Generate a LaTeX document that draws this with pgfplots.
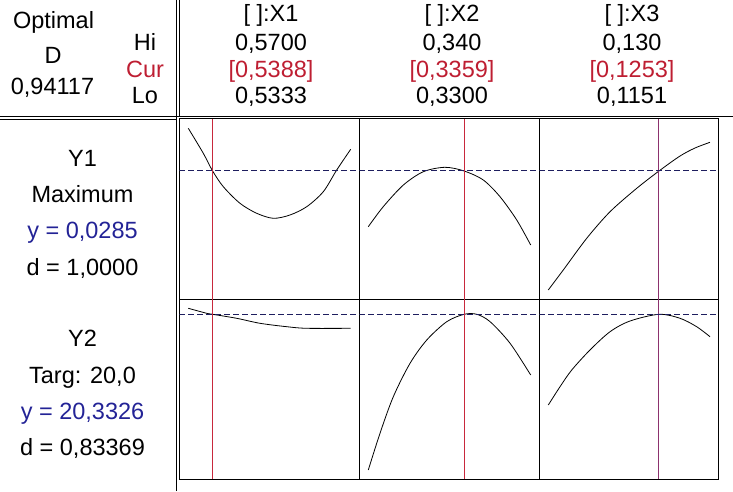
\documentclass[border=0pt]{standalone}
\usepackage{pgfplots}
\usepackage{pgfplotstable}
\pgfplotsset{compat=1.18}
\usepackage{fontspec}
\setmainfont{Liberation Sans}
\definecolor{curred}{RGB}{190,30,50}
\definecolor{curline}{RGB}{200,40,60}
\definecolor{curline3}{RGB}{140,50,110}
\definecolor{ynavy}{RGB}{35,35,150}
\definecolor{dashnavy}{RGB}{30,30,95}

% Y1 vs X1, X2, X3 (y in panel units 0..180)
\pgfplotstableread{
x y
0.5333 170.7
0.53669 145.7
0.5388 128
0.54121 112.3
0.54498 95.7
0.54876 85.7
0.55251 80.7
0.55628 84
0.56006 92.3
0.56381 107.3
0.56684 129
0.5700 149.7
}\tabAA
\pgfplotstableread{
x y
0.3300 72.3
0.33092 92.3
0.33216 114
0.33339 127.3
0.33472 131.7
0.3359 128
0.33708 119
0.33811 102.3
0.33914 79
0.3400 54
}\tabAB
\pgfplotstableread{
x y
0.1151 9
0.11648 29
0.11864 60.7
0.12079 87.3
0.12325 110.7
0.1253 128
0.12724 143
0.12862 151
0.1300 156.7
}\tabAC
% Y2 vs X1, X2, X3
\pgfplotstableread{
x y
0.5333 170.7
0.53746 165.7
0.5388 164.7
0.54424 160.7
0.54950 155.7
0.55554 152.3
0.56006 150.7
0.5700 150.7
}\tabBA
\pgfplotstableread{
x y
0.3300 9
0.33072 45.7
0.33154 82.3
0.33257 115.7
0.33360 139
0.33483 157.3
0.3359 164.7
0.33668 164.7
0.33750 157.3
0.33873 135.7
0.3400 104
}\tabBB
\pgfplotstableread{
x y
0.1151 74
0.11618 92.3
0.11726 109
0.11894 129
0.12079 147.3
0.12263 158
0.1253 164.7
0.12724 160.7
0.12877 152.3
0.1300 142.3
}\tabBC

\pgfplotsset{panel/.style={width=180pt,height=180pt,scale only axis,
  ymin=0,ymax=180,xtick=\empty,ytick=\empty,
  axis line style={line width=1pt},anchor=south west}}

\begin{document}
\begin{tikzpicture}[x=1pt,y=1pt,
  txt/.style={font=\fontsize{23.5}{28}\selectfont,inner sep=0pt,anchor=base}]
\useasboundingbox (0,0) rectangle (733,491);
% frame lines
\draw[line width=1pt] (176.7,0) -- (176.7,491);
\draw[line width=1pt] (0,374.3) -- (733,374.3);
\draw[line width=1pt] (179.3,374.3) -- (179.3,491);
\draw[line width=1pt] (0,371.7) -- (176.7,371.7);

% header left
\node[txt] at (53.5,462) {Optimal};
\node[txt] at (53,427) {D};
\node[txt] at (52.5,396) {0,94117};
\node[txt] at (145,440) {Hi};
\node[txt,text=curred] at (145,413.5) {Cur};
\node[txt] at (145,387.5) {Lo};
% column headers
\node[txt] at (271,469) {[ ]:X1};
\node[txt] at (271,440) {0,5700};
\node[txt,text=curred] at (271,413.5) {[0,5388]};
\node[txt] at (271,387.5) {0,5333};
\node[txt] at (452,469) {[ ]:X2};
\node[txt] at (452,440) {0,340};
\node[txt,text=curred] at (452,413.5) {[0,3359]};
\node[txt] at (452,387.5) {0,3300};
\node[txt] at (632,469) {[ ]:X3};
\node[txt] at (632,440) {0,130};
\node[txt,text=curred] at (632,413.5) {[0,1253]};
\node[txt] at (632,387.5) {0,1151};
% row labels
\node[txt] at (82.5,325) {Y1};
\node[txt] at (82.5,289) {Maximum};
\node[txt,text=ynavy] at (82.5,253) {y = 0,0285};
\node[txt] at (82.5,216) {d = 1,0000};
\node[txt] at (82.5,145) {Y2};
\node[txt] at (82.5,108) {Targ: 20,0};
\node[txt,text=ynavy] at (82.5,72) {y = 20,3326};
\node[txt] at (82.5,36) {d = 0,83369};

% Row 1
\begin{axis}[panel, at={(179.3pt,192pt)}, xmin=0.531266, xmax=0.571944]
\addplot[black, line width=0.8pt, smooth] table {\tabAA};
\addplot[curline, line width=1pt] coordinates {(0.5388,0) (0.5388,180)};
\addplot[dashnavy, line width=1pt, dash pattern=on 6pt off 3pt] coordinates {(0.531266,128) (0.571944,128)};
\end{axis}
\begin{axis}[panel, at={(359.3pt,192pt)}, xmin=0.329446, xmax=0.340530]
\addplot[black, line width=0.8pt, smooth] table {\tabAB};
\addplot[curline, line width=1pt] coordinates {(0.3359,0) (0.3359,180)};
\addplot[dashnavy, line width=1pt, dash pattern=on 6pt off 3pt] coordinates {(0.329446,128) (0.340530,128)};
\end{axis}
\begin{axis}[panel, width=178.7pt, at={(539.3pt,192pt)}, xmin=0.114271, xmax=0.130738]
\addplot[black, line width=0.8pt, smooth] table {\tabAC};
\addplot[curline3, line width=1pt] coordinates {(0.1253,0) (0.1253,180)};
\addplot[dashnavy, line width=1pt, dash pattern=on 6pt off 3pt] coordinates {(0.114271,128) (0.130738,128)};
\end{axis}
% Row 2
\begin{axis}[panel, at={(179.3pt,12pt)}, xmin=0.531266, xmax=0.571944]
\addplot[black, line width=0.8pt, smooth] table {\tabBA};
\addplot[curline, line width=1pt] coordinates {(0.5388,0) (0.5388,180)};
\addplot[dashnavy, line width=1pt, dash pattern=on 6pt off 3pt] coordinates {(0.531266,164.7) (0.571944,164.7)};
\end{axis}
\begin{axis}[panel, at={(359.3pt,12pt)}, xmin=0.329446, xmax=0.340530]
\addplot[black, line width=0.8pt, smooth] table {\tabBB};
\addplot[curline, line width=1pt] coordinates {(0.3359,0) (0.3359,180)};
\addplot[dashnavy, line width=1pt, dash pattern=on 6pt off 3pt] coordinates {(0.329446,164.7) (0.340530,164.7)};
\end{axis}
\begin{axis}[panel, width=178.7pt, at={(539.3pt,12pt)}, xmin=0.114271, xmax=0.130738]
\addplot[black, line width=0.8pt, smooth] table {\tabBC};
\addplot[curline3, line width=1pt] coordinates {(0.1253,0) (0.1253,180)};
\addplot[dashnavy, line width=1pt, dash pattern=on 6pt off 3pt] coordinates {(0.114271,164.7) (0.130738,164.7)};
\end{axis}
\end{tikzpicture}
\end{document}
